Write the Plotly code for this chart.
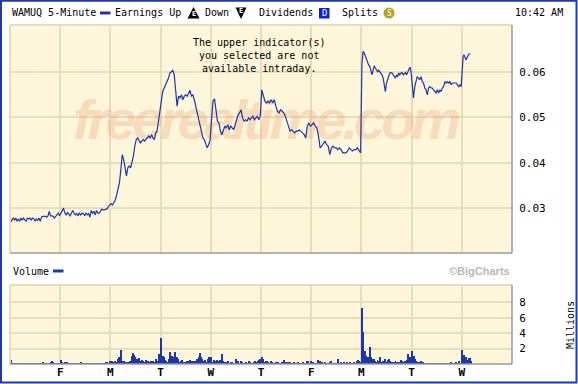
import plotly.graph_objects as go

# ---------------- data ----------------
day_labels = ["F", "M", "T", "W", "T", "F", "M", "T", "W"]   # labels at day boundaries 1..9
session_minutes = 390
last_session_minutes = 72          # 9:30 -> 10:42 on the final day
time_label = "10:42 AM"
symbol = "WAMUQ 5-Minute"

price_thu1 = [0.0269,0.0274,0.0278,0.0274,0.0278,0.0271,0.0276,0.0271,0.0278,0.0274,0.0278,0.0274,0.0271,
              0.0278,0.0276,0.0278,0.0274,0.0278,0.0276,0.0271,0.0276,0.0273,0.0278,0.0271,0.0280,0.0282,
              0.0282,0.0282,0.0280,0.0283,0.0293,0.0283,0.0283,0.0282,0.0278,0.0282,0.0285,0.0289,0.0283]
price_fri1 = [0.0288,0.0293,0.0300,0.0289,0.0285,0.0290,0.0285,0.0283,0.0289,0.0295,0.0289,0.0285,0.0288,
              0.0283,0.0289,0.0285,0.0289,0.0288,0.0283,0.0289,0.0285,0.0288,0.0280,0.0295,0.0289,0.0293,
              0.0285,0.0295,0.0289,0.0289,0.0293,0.0298,0.0296,0.0296,0.0298,0.0298,0.0304,0.0307]
price_mon1 = [0.0310,0.0307,0.0313,0.0318,0.0329,0.0345,0.0356,0.0385,0.0418,0.0407,0.0385,0.0371,0.0389,
              0.0393,0.0389,0.0400,0.0415,0.0437,0.0451,0.0455,0.0448,0.0444,0.0448,0.0451,0.0448,0.0451,
              0.0455,0.0459,0.0455,0.0462,0.0455,0.0451,0.0466,0.0470,0.0492,0.0514]
price_tue1 = [0.0539,0.0558,0.0565,0.0572,0.0579,0.0587,0.0598,0.0601,0.0604,0.0594,0.0554,0.0525,0.0547,
              0.0543,0.0550,0.0539,0.0547,0.0550,0.0547,0.0554,0.0560,0.0547,0.0550,0.0539,0.0525,0.0514,
              0.0499,0.0481,0.0466,0.0455,0.0451,0.0440,0.0433,0.0440,0.0450]
price_wed1 = [0.0495,0.0536,0.0541,0.0517,0.0492,0.0488,0.0470,0.0462,0.0473,0.0481,0.0477,0.0484,0.0473,
              0.0481,0.0477,0.0473,0.0484,0.0495,0.0506,0.0510,0.0517,0.0499,0.0492,0.0495,0.0492,0.0499,
              0.0495,0.0499,0.0503,0.0495,0.0499,0.0503,0.0495,0.0503]
price_thu2 = [0.0561,0.0550,0.0536,0.0532,0.0536,0.0532,0.0539,0.0532,0.0539,0.0525,0.0514,0.0510,0.0517,
              0.0514,0.0510,0.0503,0.0492,0.0481,0.0470,0.0473,0.0470,0.0466,0.0470,0.0470,0.0473,0.0470,
              0.0466,0.0462,0.0455,0.0481,0.0488,0.0481]
price_fri2 = [0.0484,0.0488,0.0481,0.0477,0.0459,0.0433,0.0437,0.0444,0.0448,0.0440,0.0437,0.0418,0.0433,
              0.0437,0.0433,0.0433,0.0429,0.0433,0.0429,0.0422,0.0422,0.0422,0.0426,0.0433,0.0429,0.0426,
              0.0429,0.0429,0.0433,0.0426,0.0422]
price_mon2 = [0.0620,0.0646,0.0642,0.0635,0.0627,0.0624,0.0616,0.0613,0.0601,0.0594,0.0605,0.0614,0.0609,
              0.0605,0.0601,0.0604,0.0601,0.0598,0.0594,0.0587,0.0568,0.0557,0.0576,0.0585,0.0590,0.0598,
              0.0599,0.0598,0.0594,0.0590,0.0587,0.0594,0.0590,0.0598,0.0594,0.0598,0.0599,0.0594,0.0598,
              0.0599,0.0594,0.0601,0.0607,0.0611,0.0601]
price_tue2 = [0.0561,0.0543,0.0568,0.0583,0.0590,0.0587,0.0583,0.0590,0.0579,0.0576,0.0565,0.0561,0.0550,
              0.0565,0.0568,0.0565,0.0565,0.0561,0.0557,0.0554,0.0561,0.0554,0.0561,0.0557,0.0565,0.0568,
              0.0579,0.0576,0.0579,0.0576,0.0579,0.0572,0.0576,0.0576,0.0577,0.0576,0.0572,0.0568,0.0572,
              0.0568]
price_wed2 = [0.0605,0.0635,0.0638,0.0631,0.0627,0.0631,0.0638,0.0640,0.0640,0.0640]

# volume in millions, 10-minute slots (39 per session)
vol_thu1 = [0.57,0.10,0.08,0.10,0.08,0.10,0.08,0.10,0.08,0.10,0.08,0.10,0.08,0.10,0.08,0.10,0.08,0.10,0.08,
            0.10,0.08,0.10,0.08,0.10,0.10,0.22,0.10,0.08,0.10,0.10,0.12,0.22,0.35,0.17,0.10,0.10,0.10,0.08,0.12]
vol_fri1 = [0.57,0.22,0.10,0.22,0.10,0.30,0.10,0.08,0.10,0.08,0.10,0.08,0.10,0.08,0.10,0.08,0.17,0.08,0.10,
            0.08,0.10,0.08,0.10,0.08,0.10,0.08,0.10,0.08,0.10,0.08,0.10,0.13,0.10,0.13,0.10,0.17,0.17,0.10,0.35]
vol_mon1 = [0.22,0.35,0.22,0.43,0.30,0.65,0.87,0.65,1.83,0.43,0.35,0.22,0.26,0.15,0.22,0.35,1.09,1.39,1.22,
            0.87,0.65,0.52,0.78,0.35,0.52,0.43,0.20,0.52,0.35,0.43,0.20,0.35,0.43,0.35,0.20,0.65,0.35,1.30,0.40]
vol_tue1 = [3.35,1.09,0.87,0.52,0.43,0.20,0.65,1.52,1.09,0.87,0.30,1.52,0.87,0.65,0.20,0.43,0.52,0.22,0.22,
            0.15,0.35,0.43,0.52,0.15,0.35,0.43,0.35,0.15,0.65,0.87,1.39,0.87,0.65,0.43,0.52,0.20,0.65,0.96,0.78]
vol_wed1 = [0.87,0.30,0.52,0.35,0.52,0.20,0.35,0.52,1.30,0.43,0.15,0.22,0.22,0.35,0.12,0.22,0.22,0.10,0.12,
            0.65,0.35,0.35,0.12,0.35,0.22,0.10,0.12,0.22,0.10,0.35,0.22,0.10,0.12,0.22,0.43,0.15,0.35,0.52,0.65]
vol_thu2 = [0.96,0.65,0.15,0.43,0.35,0.22,0.10,0.43,0.22,0.10,0.12,0.22,0.10,0.22,0.10,0.12,0.22,0.52,0.22,
            0.10,0.22,0.22,0.22,0.10,0.12,0.15,0.10,0.12,0.15,0.10,0.12,0.10,0.22,0.12,0.10,0.35,0.43,0.12,0.35]
vol_fri2 = [0.22,0.22,0.10,0.12,0.10,0.52,0.35,0.10,0.22,0.10,0.15,0.10,0.12,0.10,0.22,0.35,0.10,0.12,0.10,
            0.10,0.65,0.10,0.12,0.22,0.10,0.15,0.10,0.22,0.10,0.12,0.15,0.10,0.10,0.15,0.10,0.35,0.52,0.43,0.20]
vol_mon2 = [7.30,4.13,1.74,1.09,0.87,0.87,2.26,0.87,0.65,0.65,0.43,0.20,0.52,0.43,0.87,0.20,0.43,0.35,0.65,
            0.20,0.52,0.65,0.35,0.22,0.12,0.22,0.35,0.22,0.12,0.15,0.52,0.43,0.15,0.35,0.43,0.52,1.30,0.87,0.30]
vol_tue2 = [1.65,1.09,0.65,0.35,0.15,0.22,0.10,0.35,0.22,0.10,0.13,0.10,0.10,0.13,0.10,0.10,0.13,0.10,0.10,
            0.13,0.10,0.10,0.13,0.10,0.10,0.13,0.10,0.10,0.12,0.10,0.22,0.10,0.10,0.12,0.22,0.10,0.35,0.12,0.10]
vol_wed2 = [1.87,1.22,0.52,0.87,0.52,0.78,0.78,0.43]

price_days = [price_thu1, price_fri1, price_mon1, price_tue1, price_wed1,
              price_thu2, price_fri2, price_mon2, price_tue2, price_wed2]
vol_days = [vol_thu1, vol_fri1, vol_mon1, vol_tue1, vol_wed1,
            vol_thu2, vol_fri2, vol_mon2, vol_tue2, vol_wed2]
slots_per_session = 39

price_ticks = [0.03, 0.04, 0.05, 0.06]
vol_ticks = [2, 4, 6, 8]

# ---------------- build coordinates ----------------
px, py = [], []
n_days = len(price_days)
for d, vals in enumerate(price_days):
    cover = (last_session_minutes if d == n_days - 1 else session_minutes) / session_minutes
    n = len(vals)
    for k, v in enumerate(vals):
        px.append(d + (k + 0.5) / n * cover)
        py.append(v)

vx, vy = [], []
for d, vals in enumerate(vol_days):
    for k, v in enumerate(vals):
        vx.append(d + (k + 0.5) / slots_per_session)
        vy.append(v)

# ---------------- styling ----------------
W, H = 578, 384
def fx(p): return p / W
def fy(p): return 1 - p / H

BLUE = "#1c38a8"
CREAM = "#fdf6db"
GRID = "#e7ddbb"
MONO = "DejaVu Sans Mono"

fig = go.Figure()

# watermark (drawn first so line sits on top)
fig.add_trace(go.Scatter(
    x=[5.08], y=[0.0484], mode="text",
    text=['<span style="letter-spacing:-4px"><b><i>freerealtime.com</i></b></span>'],
    textfont=dict(family="Liberation Sans", size=56, color="rgba(236,168,124,0.34)"),
    hoverinfo="skip", showlegend=False, xaxis="x", yaxis="y"))

fig.add_trace(go.Scatter(
    x=px, y=py, mode="lines", line=dict(color=BLUE, width=1.2),
    hoverinfo="skip", showlegend=False, xaxis="x", yaxis="y"))

fig.add_trace(go.Bar(
    x=vx, y=vy, width=0.75 / slots_per_session, marker=dict(color=BLUE, line=dict(width=0)),
    hoverinfo="skip", showlegend=False, xaxis="x2", yaxis="y2"))

day_pos = list(range(1, len(day_labels) + 1))
axis_common = dict(showgrid=True, gridcolor=GRID, gridwidth=2, zeroline=False, showline=False)

fig.update_layout(
    width=W, height=H, margin=dict(l=0, r=0, t=0, b=0),
    paper_bgcolor="white", plot_bgcolor=CREAM, bargap=0,
    xaxis=dict(domain=[fx(10), fx(512)], range=[0, 10], tickvals=day_pos,
               showticklabels=False, ticks="", anchor="y", **axis_common),
    yaxis=dict(domain=[fy(253), fy(25)], range=[0.0201, 0.0704], tickvals=price_ticks,
               ticktext=[f"{t:.2f}" for t in price_ticks], side="right", anchor="x",
               ticks="outside", ticklen=4, tickcolor="rgba(0,0,0,0)",
               tickfont=dict(family=MONO, size=11, color="black"), **axis_common),
    xaxis2=dict(domain=[fx(10), fx(512)], range=[0, 10], tickvals=day_pos, ticktext=day_labels,
                anchor="y2", ticks="", 
                tickfont=dict(family=MONO, size=11, color="black", weight="bold"), **axis_common),
    yaxis2=dict(domain=[fy(364), fy(285)], range=[0, 10.27], tickvals=vol_ticks,
                ticktext=[str(t) for t in vol_ticks], side="right", anchor="x2",
                ticks="outside", ticklen=4, tickcolor="rgba(0,0,0,0)",
                tickfont=dict(family=MONO, size=11, color="black"), **axis_common),
)

shapes = []
# plot borders: light top/left, grey right/bottom
for top, bot in [(25, 253), (285, 364)]:
    shapes.append(dict(type="line", xref="paper", yref="paper", x0=fx(10), x1=fx(512), y0=fy(top), y1=fy(top),
                       line=dict(color=GRID, width=2)))
    shapes.append(dict(type="line", xref="paper", yref="paper", x0=fx(10), x1=fx(10), y0=fy(top), y1=fy(bot),
                       line=dict(color=GRID, width=2)))
    shapes.append(dict(type="line", xref="paper", yref="paper", x0=fx(512), x1=fx(512), y0=fy(top), y1=fy(bot),
                       line=dict(color="#9a9a9a", width=1.5)))
    shapes.append(dict(type="line", xref="paper", yref="paper", x0=fx(10), x1=fx(512), y0=fy(bot), y1=fy(bot),
                       line=dict(color="#9a9a9a", width=1.5)))
# outer blue frame
shapes.append(dict(type="rect", xref="paper", yref="paper", x0=fx(1), x1=fx(576.5), y0=fy(382.5), y1=fy(0.7),
                   line=dict(color="#1d3aa6", width=2), fillcolor="rgba(0,0,0,0)"))
# header legend swatches / icons
shapes.append(dict(type="line", xref="paper", yref="paper", x0=fx(100), x1=fx(110.5), y0=fy(13), y1=fy(13),
                   line=dict(color=BLUE, width=3)))
shapes.append(dict(type="line", xref="paper", yref="paper", x0=fx(53), x1=fx(63.5), y0=fy(271), y1=fy(271),
                   line=dict(color=BLUE, width=3)))
shapes.append(dict(type="path", xref="paper", yref="paper",
                   path=f"M {fx(187.5)},{fy(18.5)} L {fx(199.5)},{fy(18.5)} L {fx(193.5)},{fy(7)} Z",
                   fillcolor="black", line=dict(width=0)))
shapes.append(dict(type="path", xref="paper", yref="paper",
                   path=f"M {fx(235.5)},{fy(7.5)} L {fx(246.5)},{fy(7.5)} L {fx(241)},{fy(19)} Z",
                   fillcolor="black", line=dict(width=0)))
shapes.append(dict(type="rect", xref="paper", yref="paper", x0=fx(319), x1=fx(329.5), y0=fy(18.5), y1=fy(8),
                   fillcolor="#0a22e0", line=dict(width=0)))
shapes.append(dict(type="circle", xref="paper", yref="paper", x0=fx(383.5), x1=fx(394.5), y0=fy(18.5), y1=fy(7.5),
                   fillcolor="#b3a22c", line=dict(width=0)))
fig.update_layout(shapes=shapes)

ann = []
def text(x, y, s, size=10, anchor="left", color="black", family=MONO, **kw):
    ann.append(dict(x=fx(x), y=fy(y), xref="paper", yref="paper", text=s, showarrow=False,
                    xanchor=anchor, yanchor="middle", font=dict(family=family, size=size, color=color), **kw))

text(10, 13, symbol)
text(113, 13, "Earnings Up")
text(203, 13, "Down")
text(257, 13, "Dividends")
text(340, 13, "Splits")
text(565, 13, time_label, anchor="right")
text(193.5, 14.5, "<b>E</b>", size=7, anchor="center", color="white")
text(241, 11.5, "<b>E</b>", size=7, anchor="center", color="white")
text(324.3, 13.3, "D", size=9, anchor="center", color="white")
text(389, 13.2, "<b>S</b>", size=8, anchor="center", color="#f4eaa0")
text(259, 55.5, "The upper indicator(s)<br>you selected are not<br>available intraday.",
     size=10, anchor="center", align="center")
text(11, 271, "Volume")
text(512, 271, "©BigCharts", size=11, anchor="right", color="#b8b8b8", family="Liberation Sans")
ann[-1]["font"]["weight"] = "bold"
text(570, 325, "Millions", size=10, anchor="center", textangle=-90)
fig.update_layout(annotations=ann)

fig.write_html("out.html", config={"displayModeBar": False},
               post_script="document.body.style.margin='0';document.body.style.overflow='hidden';")
